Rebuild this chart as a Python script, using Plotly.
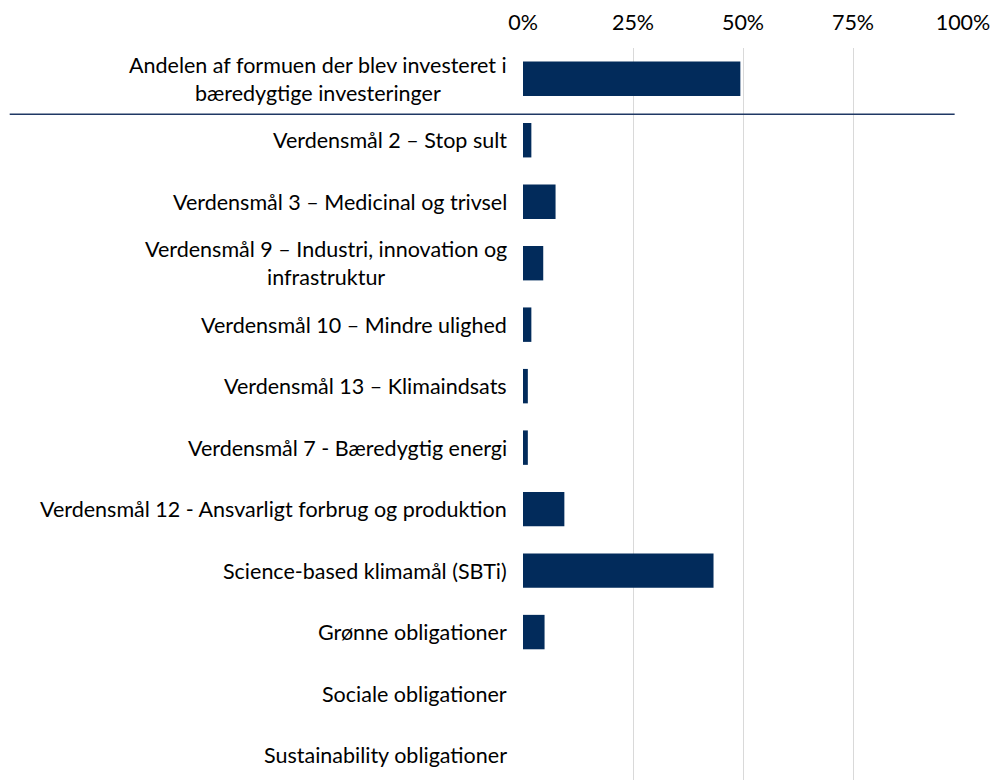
import plotly.graph_objects as go

categories = [
    "Andelen af formuen der blev investeret i<br>bæredygtige investeringer",
    "Verdensmål 2 – Stop sult",
    "Verdensmål 3 – Medicinal og trivsel",
    "Verdensmål 9 – Industri, innovation og<br>infrastruktur",
    "Verdensmål 10 – Mindre ulighed",
    "Verdensmål 13 – Klimaindsats",
    "Verdensmål 7 - Bæredygtig energi",
    "Verdensmål 12 - Ansvarligt forbrug og produktion",
    "Science-based klimamål (SBTi)",
    "Grønne obligationer",
    "Sociale obligationer",
    "Sustainability obligationer",
]
values = [0.494, 0.019, 0.074, 0.046, 0.019, 0.011, 0.011, 0.094, 0.433, 0.049, 0.0, 0.0]
tick_vals = [0, 0.25, 0.5, 0.75, 1.0]
tick_text = ["0%", "25%", "50%", "75%", "100%"]

FONT = "Lato, Calibri, Carlito, sans-serif"
BAR = "#022B5B"
FS = 21.5

fig = go.Figure()
fig.add_trace(go.Bar(
    x=values,
    y=list(range(len(categories))),
    orientation="h",
    marker=dict(color=BAR, line=dict(width=0)),
    hoverinfo="skip",
))

for i, c in enumerate(categories):
    fig.add_annotation(
        x=0, y=i, xref="x", yref="y", text=c, showarrow=False,
        xanchor="right", yanchor="middle", align="center", xshift=-14,
        font=dict(family=FONT, size=FS, color="#000000"),
    )

fig.add_shape(type="line", xref="paper", yref="y",
              x0=-1.1666, x1=0.981, y0=0.577, y1=0.577,
              line=dict(color="#1F3864", width=1.5))

fig.update_layout(
    width=996, height=772,
    margin=dict(l=515, r=41, t=40, b=0, pad=0, autoexpand=False),
    paper_bgcolor="white", plot_bgcolor="white",
    showlegend=False,
    bargap=0.44,
    font=dict(family=FONT, size=FS, color="#000000"),
    xaxis=dict(
        side="top", range=[0, 1], tickvals=tick_vals, ticktext=tick_text,
        showgrid=True, gridcolor="#D9D9D9", gridwidth=1,
        zeroline=False, showline=False, ticks="",
        tickfont=dict(family=FONT, size=FS, color="#000000"),
        ticklabelstandoff=13, fixedrange=True, automargin=False,
    ),
    yaxis=dict(
        range=[11.406, -0.5], showticklabels=False, showgrid=False,
        zeroline=False, showline=False, ticks="", fixedrange=True,
        automargin=False,
    ),
)

fig.write_html("out.html")
